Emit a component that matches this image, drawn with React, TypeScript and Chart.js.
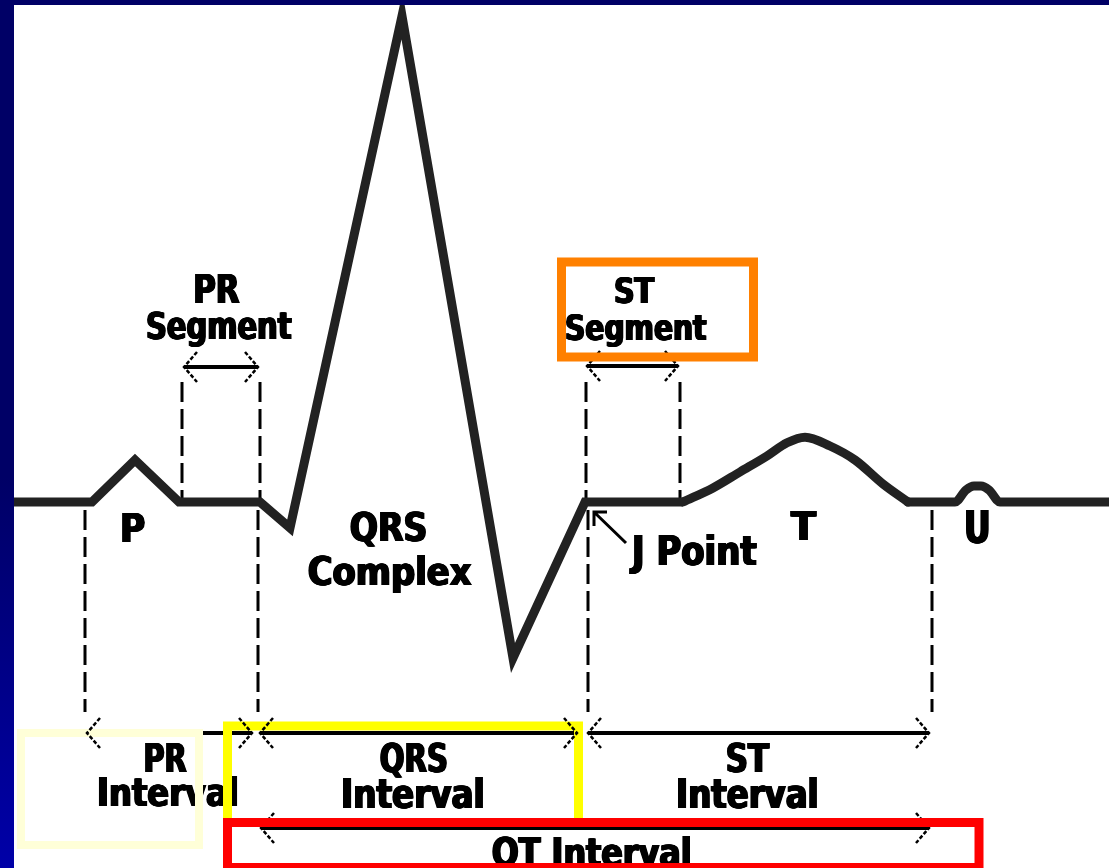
import React, { useEffect, useRef } from "react";
import { Chart, registerables } from "chart.js";

Chart.register(...registerables);

// ---------- DATA (time in ms, amplitude in µV) ----------
// P wave, PR segment, QRS complex, ST segment (sharp corners)
const qrsTime = [0, 78, 121, 165, 246, 276, 388, 499, 571, 669];
const qrsAmp = [0, 0, 105, 0, 0, -65, 1215, -390, 0, 0];
// T wave (smooth)
const tWaveTime = [669, 699, 726, 753, 773, 791, 816, 841, 869, 894];
const tWaveAmp = [0, 35, 75, 115, 148, 162, 140, 105, 45, 0];
// baseline, U wave and trailing baseline (smooth)
const uWaveTime = [894, 941, 952, 960, 967, 975, 986, 1095];
const uWaveAmp = [0, 0, 30, 40, 40, 30, 0, 0];

// dashed marker lines above and below the baseline
const upperMarkTimes = [168, 246, 572, 666];
const upperMarkFrom = 300;
const upperMarkTo = 5;
const lowerMarkTimes = [71, 244, 574, 918];
const lowerMarkFrom = -20;
const lowerMarkTo = -525;

// double-headed measurement arrows
const arrowNames = ["PR Segment", "ST Segment", "PR Interval", "QRS Interval", "ST Interval", "QT Interval"];
const arrowStart = [170, 573, 73, 246, 574, 247];
const arrowEnd = [244, 664, 238, 563, 915, 915];
const arrowLevel = [337.5, 340, -577.5, -577.5, -577.5, -815];

// J point pointer
const jPointerTail = [612, -102.5];
const jPointerTip = [580, -25];

// labels: text, ink left/right (ms), cap top / baseline (µV)
const labelTexts = ["PR", "Segment", "ST", "Segment", "P", "QRS", "Complex", "J Point", "T", "U", "PR", "Interval", "QRS", "Interval", "ST", "Interval", "QT Interval"];
const labelLeft = [181, 133, 601, 552, 108, 336, 294, 615, 776, 952, 131, 85, 366, 329, 713, 664, 478];
const labelRight = [226, 278, 641, 693, 131, 412, 458, 743, 803, 975, 173, 223, 433, 469, 756, 803, 676];
const labelTop = [567.5, 475, 562.5, 470, -27.5, -25, -137.5, -82.5, -22.5, -20, -602.5, -687.5, -602.5, -690, -602.5, -690, -837.5];
const labelBase = [497.5, 407.5, 497.5, 405, -100, -97.5, -207.5, -157.5, -95, -102.5, -675, -760, -675, -765, -675, -765, -910];

// highlight frames (ms / µV)
const frameNames = ["ST Segment", "PR Interval", "QRS Interval", "QT Interval"];
const frameLeft = [547.5, 7, 213.5, 213.5];
const frameRight = [739.5, 185, 564.5, 965];
const frameTop = [600, -577.5, -560, -801.25];
const frameBottom = [362.5, -857.5, -801.25, -913.75];

// ---------- STYLE ----------
const W = 1109;
const H = 868;
const STYLE = {
  navy: "#000066",
  navyLight: "#0000A8",
  trace: "#222222",
  traceWidth: 9,
  ink: "#000000",
  dashWidth: 3,
  dash: [20, 7],
  arrowWidth: 4,
  chevronDx: 13,
  chevronDy: 15,
  chevronWidth: 2.5,
  frameColors: ["#FF8000", "#FFFFD8", "#FFFF00", "#FF0000"],
  frameWidths: [9, 8, 9, 9],
  chevronOnTop: [false, false, true, true, true, false],
  font: "'DejaVu Sans', 'Liberation Sans', sans-serif",
  emboldenPx: 2,
};

function drawLabel(ctx: CanvasRenderingContext2D, text: string, x1: number, x2: number, yTop: number, yBase: number) {
  ctx.save();
  ctx.font = `bold 100px ${STYLE.font}`;
  const m = ctx.measureText(text);
  const cap = ctx.measureText("H").actualBoundingBoxAscent || 73;
  const inkW = m.actualBoundingBoxLeft + m.actualBoundingBoxRight;
  const sx = (x2 - x1 - STYLE.emboldenPx) / inkW;
  const sy = (yBase - yTop) / cap;
  ctx.textAlign = "left";
  ctx.textBaseline = "alphabetic";
  ctx.fillStyle = STYLE.ink;
  for (let d = 0; d <= STYLE.emboldenPx; d += 0.5) {
    ctx.save();
    ctx.translate(x1 + d, yBase);
    ctx.scale(sx, sy);
    ctx.fillText(text, m.actualBoundingBoxLeft, 0);
    ctx.restore();
  }
  ctx.restore();
}

function drawChevrons(ctx: CanvasRenderingContext2D, x1: number, x2: number, y: number) {
  ctx.save();
  ctx.strokeStyle = STYLE.ink;
  ctx.lineWidth = STYLE.chevronWidth;
  ctx.setLineDash([4, 2]);
  ctx.beginPath();
  ctx.moveTo(x1 + STYLE.chevronDx, y - STYLE.chevronDy);
  ctx.lineTo(x1, y);
  ctx.lineTo(x1 + STYLE.chevronDx, y + STYLE.chevronDy);
  ctx.moveTo(x2 - STYLE.chevronDx, y - STYLE.chevronDy);
  ctx.lineTo(x2, y);
  ctx.lineTo(x2 - STYLE.chevronDx, y + STYLE.chevronDy);
  ctx.stroke();
  ctx.restore();
}

const ecgPlugin = {
  id: "ecgDiagram",
  beforeDraw(chart: any) {
    const { ctx, chartArea } = chart;
    ctx.save();
    ctx.fillStyle = STYLE.navy;
    ctx.fillRect(0, 0, W, H);
    const g = ctx.createLinearGradient(0, 0, 0, H);
    g.addColorStop(0, STYLE.navy);
    g.addColorStop(0.55, STYLE.navy);
    g.addColorStop(1, STYLE.navyLight);
    ctx.fillStyle = g;
    ctx.fillRect(0, 0, chartArea.left, H);
    ctx.fillStyle = "#FFFFFF";
    ctx.fillRect(chartArea.left, chartArea.top, chartArea.right - chartArea.left, chartArea.bottom - chartArea.top);
    ctx.restore();
  },
  beforeDatasetsDraw(chart: any) {
    const { ctx } = chart;
    const xs = chart.scales.x;
    const ys = chart.scales.y;
    const px = (v: number) => xs.getPixelForValue(v);
    const py = (v: number) => ys.getPixelForValue(v);
    ctx.save();
    ctx.strokeStyle = STYLE.ink;
    ctx.lineWidth = STYLE.dashWidth;
    ctx.setLineDash(STYLE.dash);
    ctx.beginPath();
    upperMarkTimes.forEach((t) => {
      ctx.moveTo(px(t), py(upperMarkFrom));
      ctx.lineTo(px(t), py(upperMarkTo));
    });
    lowerMarkTimes.forEach((t) => {
      ctx.moveTo(px(t), py(lowerMarkFrom));
      ctx.lineTo(px(t), py(lowerMarkTo));
    });
    ctx.stroke();
    ctx.setLineDash([]);
    ctx.lineWidth = STYLE.arrowWidth;
    ctx.beginPath();
    arrowNames.forEach((_, i) => {
      ctx.moveTo(px(arrowStart[i]), py(arrowLevel[i]));
      ctx.lineTo(px(arrowEnd[i]), py(arrowLevel[i]));
    });
    ctx.stroke();
    ctx.restore();
    arrowNames.forEach((_, i) => {
      if (!STYLE.chevronOnTop[i]) drawChevrons(ctx, px(arrowStart[i]), px(arrowEnd[i]), py(arrowLevel[i]));
    });
    ctx.save();
    ctx.strokeStyle = STYLE.ink;
    ctx.lineWidth = 3;
    const tx = px(jPointerTip[0]);
    const ty = py(jPointerTip[1]);
    ctx.beginPath();
    ctx.moveTo(px(jPointerTail[0]), py(jPointerTail[1]));
    ctx.lineTo(tx, ty);
    ctx.moveTo(tx, ty + 14);
    ctx.lineTo(tx, ty);
    ctx.lineTo(tx + 13, ty);
    ctx.stroke();
    ctx.restore();
    labelTexts.forEach((t, i) => {
      drawLabel(ctx, t, px(labelLeft[i]), px(labelRight[i]), py(labelTop[i]), py(labelBase[i]));
    });
  },
  afterDatasetsDraw(chart: any) {
    const { ctx } = chart;
    const xs = chart.scales.x;
    const ys = chart.scales.y;
    const px = (v: number) => xs.getPixelForValue(v);
    const py = (v: number) => ys.getPixelForValue(v);
    ctx.save();
    frameNames.forEach((_, i) => {
      ctx.strokeStyle = STYLE.frameColors[i];
      ctx.lineWidth = STYLE.frameWidths[i];
      ctx.lineJoin = "miter";
      const x1 = px(frameLeft[i]);
      const x2 = px(frameRight[i]);
      const y1 = py(frameTop[i]);
      const y2 = py(frameBottom[i]);
      ctx.strokeRect(x1, y1, x2 - x1, y2 - y1);
    });
    ctx.restore();
    arrowNames.forEach((_, i) => {
      if (STYLE.chevronOnTop[i]) drawChevrons(ctx, px(arrowStart[i]), px(arrowEnd[i]), py(arrowLevel[i]));
    });
  },
};

function traceDataset(label: string, times: number[], amps: number[], smooth: boolean) {
  return {
    label,
    data: times.map((t, i) => ({ x: t, y: amps[i] })),
    showLine: true,
    borderColor: STYLE.trace,
    borderWidth: STYLE.traceWidth,
    borderJoinStyle: smooth ? "round" : "miter",
    borderCapStyle: smooth ? "round" : "butt",
    pointRadius: 0,
    pointHoverRadius: 0,
    tension: smooth ? 0.4 : 0,
    cubicInterpolationMode: smooth ? "monotone" : "default",
    fill: false,
    clip: 0,
  } as any;
}

export default function App() {
  const ref = useRef<HTMLCanvasElement | null>(null);
  useEffect(() => {
    document.body.style.margin = "0";
    document.body.style.overflow = "hidden";
    const canvas = ref.current;
    if (!canvas) return;
    const chart = new Chart(canvas, {
      type: "scatter",
      data: {
        datasets: [
          traceDataset("P-QRS-ST", qrsTime, qrsAmp, false),
          traceDataset("T wave", tWaveTime, tWaveAmp, true),
          traceDataset("U wave", uWaveTime, uWaveAmp, true),
        ],
      },
      options: {
        animation: false,
        responsive: false,
        devicePixelRatio: 1,
        events: [],
        layout: { padding: { left: 14, top: 5, right: 0, bottom: 0 } },
        scales: {
          x: { type: "linear", min: 0, max: 1095, display: false },
          y: { type: "linear", min: -915, max: 1242.5, display: false },
        },
        plugins: { legend: { display: false }, tooltip: { enabled: false } },
      },
      plugins: [ecgPlugin],
    });
    return () => chart.destroy();
  }, []);
  return (
    <div style={{ position: "absolute", left: 0, top: 0, width: W, height: H }}>
      <canvas ref={ref} width={W} height={H} style={{ display: "block", width: W, height: H }} />
    </div>
  );
}
